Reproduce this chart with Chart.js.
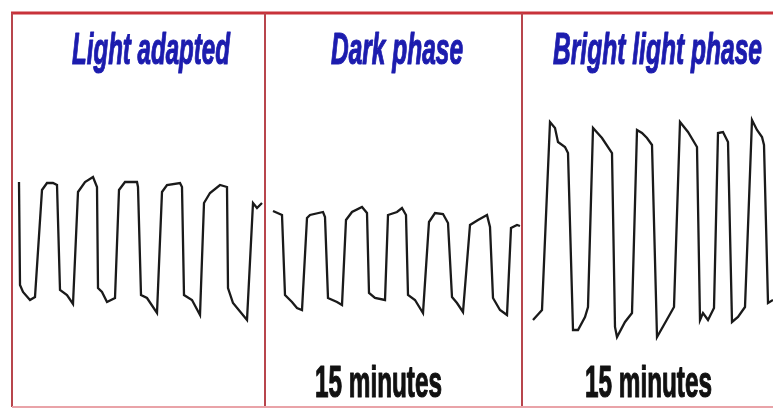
<!DOCTYPE html>
<html>
<head>
<meta charset="utf-8">
<script src="https://cdn.jsdelivr.net/npm/chart.js@4.4.1/dist/chart.umd.min.js"></script>
<style>
  html, body { margin: 0; padding: 0; background: #fff; }
  #trace { display: block; }
</style>
</head>
<body>
<canvas id="trace" width="773" height="408"></canvas>
<script>
// traces (time, response), one array pair per phase
const lightTime = [19, 20, 23, 30, 35, 42, 47, 53, 57, 60, 67, 73, 78, 85, 93, 97, 98, 102, 107, 115, 119, 125, 137, 138, 141, 147, 157, 162, 167, 180, 182, 184, 192, 200, 204, 210, 220, 227, 228, 233, 247, 253, 257, 262];
const lightResp = [182, 285, 292, 300, 297, 190, 183, 183, 185, 290, 295, 304, 192, 182, 177, 187, 288, 292, 302, 298, 190, 182, 182, 187, 295, 298, 313, 192, 185, 183, 187, 295, 300, 315, 203, 193, 185, 187, 288, 303, 320, 203, 208, 203];

const darkTime = [273, 282, 285, 292, 297, 302, 307, 310, 323, 325, 328, 337, 342, 346, 352, 362, 367, 369, 375, 385, 388, 397, 402, 406, 408, 415, 423, 429, 435, 443, 448, 452, 457, 463, 470, 478, 487, 490, 493, 500, 507, 511, 517, 520];
const darkResp = [211, 215, 295, 302, 308, 310, 218, 215, 212, 217, 298, 302, 305, 220, 212, 207, 213, 293, 298, 300, 215, 212, 208, 215, 295, 300, 313, 222, 213, 214, 223, 297, 303, 312, 225, 220, 215, 227, 298, 310, 315, 228, 225, 226];

const brightTime = [533, 542, 550, 555, 558, 565, 568, 573, 578, 585, 588, 593, 602, 612, 615, 617, 625, 632, 637, 642, 647, 652, 657, 665, 674, 680, 688, 697, 700, 703, 708, 714, 718, 723, 728, 732, 738, 745, 752, 757, 762, 764, 768, 773];
const brightResp = [320, 310, 122, 128, 142, 147, 153, 330, 330, 317, 307, 128, 138, 153, 327, 337, 322, 313, 130, 133, 138, 145, 337, 323, 307, 122, 132, 147, 320, 313, 320, 308, 133, 132, 142, 322, 317, 307, 120, 130, 137, 145, 303, 300];

// panel frame (time positions of the dividers, response levels of top/bottom rules)
const panelEdges = [12, 265, 522];
const frameTop = 13;
const frameBottom = 407;

const phaseTitles = ["Light adapted", "Dark phase", "Bright light phase"];
const titleSpans = [[72, 230], [331, 463], [553, 762]];
const scaleLabels = ["", "15 minutes", "15 minutes"];
const scaleSpans = [null, [315, 442], [585, 712]];

function toPoints(xs, ys) {
  return xs.map((x, i) => ({ x: x, y: ys[i] }));
}

// draws text squeezed to the given span, like the narrow font in the original
function fitText(ctx, text, x0, x1, baseline, font, color) {
  ctx.save();
  ctx.font = font;
  ctx.fillStyle = color;
  ctx.strokeStyle = color;
  ctx.textBaseline = "alphabetic";
  const w = ctx.measureText(text).width;
  const sx = (x1 - x0) / w;
  ctx.translate(x0, baseline);
  ctx.scale(sx, 1);
  ctx.lineWidth = 1.2;
  ctx.lineJoin = "round";
  ctx.fillText(text, 0, 0);
  ctx.strokeText(text, 0, 0);
  ctx.restore();
}

const framePlugin = {
  id: "frame",
  beforeDatasetsDraw(chart) {
    const ctx = chart.ctx;
    const xs = chart.scales.x, ys = chart.scales.y;
    const top = ys.getPixelForValue(frameTop);
    const bottom = ys.getPixelForValue(frameBottom);

    ctx.save();
    ctx.strokeStyle = "#c8323a";
    ctx.lineWidth = 3;
    ctx.beginPath();
    ctx.moveTo(xs.getPixelForValue(panelEdges[0]) - 1, top);
    ctx.lineTo(chart.width, top);
    ctx.stroke();

    ctx.strokeStyle = "#b8454c";
    ctx.lineWidth = 2;
    panelEdges.forEach(e => {
      const px = xs.getPixelForValue(e);
      ctx.beginPath();
      ctx.moveTo(px, top);
      ctx.lineTo(px, bottom);
      ctx.stroke();
    });

    ctx.strokeStyle = "#e9a3a8";
    ctx.lineWidth = 2;
    ctx.beginPath();
    ctx.moveTo(xs.getPixelForValue(panelEdges[0]), bottom);
    ctx.lineTo(chart.width, bottom);
    ctx.stroke();

    phaseTitles.forEach((t, i) => {
      const [a, b] = titleSpans[i];
      fitText(ctx, t, xs.getPixelForValue(a), xs.getPixelForValue(b), ys.getPixelForValue(64),
        'italic bold 44px "Liberation Sans", Arial, sans-serif', "#1c1cae");
    });
    scaleLabels.forEach((t, i) => {
      if (!t) return;
      const [a, b] = scaleSpans[i];
      fitText(ctx, t, xs.getPixelForValue(a), xs.getPixelForValue(b), ys.getPixelForValue(397),
        'bold 44px "Liberation Sans", Arial, sans-serif', "#111111");
    });
    ctx.restore();
  }
};

const lineStyle = {
  borderColor: "#1a1a1a",
  borderWidth: 2.3,
  pointRadius: 0,
  tension: 0,
  fill: false
};

new Chart(document.getElementById("trace"), {
  type: "line",
  data: {
    datasets: [
      { label: phaseTitles[0], data: toPoints(lightTime, lightResp), ...lineStyle },
      { label: phaseTitles[1], data: toPoints(darkTime, darkResp), ...lineStyle },
      { label: phaseTitles[2], data: toPoints(brightTime, brightResp), ...lineStyle }
    ]
  },
  options: {
    responsive: false,
    animation: false,
    layout: { padding: 0 },
    plugins: { legend: { display: false }, tooltip: { enabled: false } },
    scales: {
      x: { type: "linear", min: 0, max: 773, display: false },
      y: { type: "linear", min: 0, max: 408, reverse: true, display: false }
    }
  },
  plugins: [framePlugin]
});
</script>
</body>
</html>
